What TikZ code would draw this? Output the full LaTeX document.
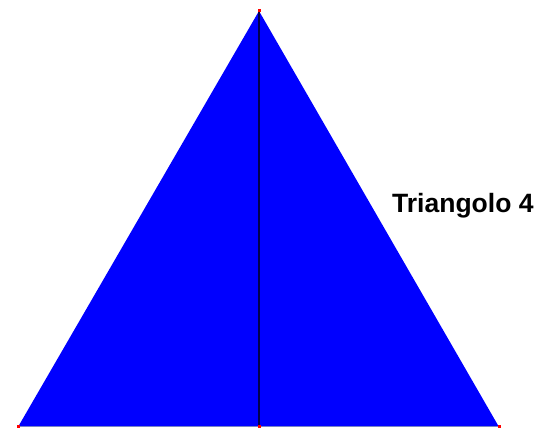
\documentclass[tikz,border=0pt]{standalone}
\usepackage{fontspec}
\setsansfont{Liberation Sans}
\usetikzlibrary{positioning}
\definecolor{fillblue}{RGB}{0,0,255}
\definecolor{midline}{RGB}{0,0,80}
\definecolor{baseedge}{RGB}{120,130,200}
\tikzset{vtx/.style={fill=red,inner sep=0pt,minimum size=3pt,rectangle}}

\begin{document}
\begin{tikzpicture}[x=1pt,y=-1pt]
\useasboundingbox (0,0) rectangle (558,433);
\coordinate (apex) at (259,11);
\coordinate (bl) at (18,427);
\coordinate (br) at (499,427);
\coordinate (bm) at (259,427);
\fill[fillblue] (apex) -- (br) -- (bl) -- cycle;
\draw[midline,line width=1.3pt] (apex) -- (bm);
\draw[baseedge,line width=1pt] (bl) -- (br);
\node[vtx] (vA) at (apex) {};
\node[vtx] (vB) at (bl) {};
\node[vtx] (vC) at (br) {};
\node[vtx] (vM) at (bm) {};
\node[anchor=base west,inner sep=0pt,font=\sffamily\bfseries\fontsize{26.5}{30}\selectfont] (lab) at (392,213) {Triangolo 4};
\end{tikzpicture}
\end{document}
